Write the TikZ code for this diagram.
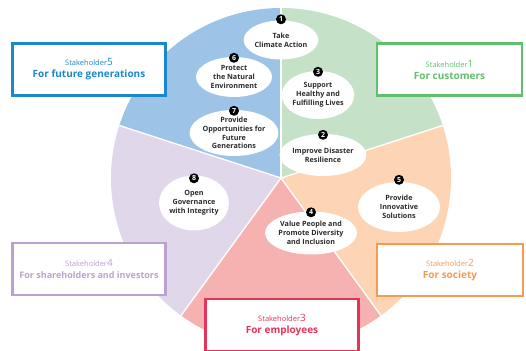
\documentclass[tikz,border=0pt]{standalone}
\usepackage{fontspec}
\setmainfont{Open Sans}
\usetikzlibrary{shapes.geometric}

\definecolor{fillblue}{HTML}{9DC3E6}
\definecolor{fillgreen}{HTML}{C5E2C8}
\definecolor{fillorange}{HTML}{FDD5B4}
\definecolor{fillpink}{HTML}{F6B2B0}
\definecolor{filllav}{HTML}{E1D7EB}
\definecolor{lineblue}{HTML}{1B87CC}
\definecolor{linegreen}{HTML}{62BF6E}
\definecolor{lineorange}{HTML}{F59B50}
\definecolor{linepink}{HTML}{E5335B}
\definecolor{linelav}{HTML}{BBA1D2}
\definecolor{txtgray}{HTML}{2B2B2B}

\tikzset{
  goal/.style={ellipse, fill=white, text=txtgray, align=center, inner sep=0pt,
    font=\fontsize{7.2}{8.8}\selectfont\bfseries},
  num/.style={circle, fill=black, text=white, inner sep=0pt, minimum size=10pt,
    font=\fontsize{7}{7}\selectfont\bfseries},
  sbox/.style={draw=#1, line width=2.6pt, fill=white, text=#1, align=center,
    minimum height=52pt}
}
\newcommand{\shead}[2]{{\fontsize{7.5}{11}\selectfont #1\fontsize{10}{11}\selectfont #2}}
\newcommand{\sfor}[1]{{\fontsize{10}{12}\selectfont\bfseries #1}}

\begin{document}
\begin{tikzpicture}[x=1pt,y=1pt]
    \useasboundingbox (0,0) rectangle (526,350);
    \coordinate (c) at (281,172);

    % pie
    \fill[fillgreen] (c) -- ++(18:170) arc (18:90:170) -- cycle;
    \fill[fillblue] (c) -- ++(90:170) arc (90:162:170) -- cycle;
    \fill[filllav] (c) -- ++(162:170) arc (162:234:170) -- cycle;
    \fill[fillpink] (c) -- ++(234:170) arc (234:306:170) -- cycle;
    \fill[fillorange] (c) -- ++(306:170) arc (306:378:170) -- cycle;
    \foreach \a in {18,90,162,234,306}
        \draw[white, line width=1.3pt] (c) -- ++(\a:170);

    % goals
    \node[goal, minimum width=74pt, minimum height=39pt] (e1) at (281,310) {Take\\Climate Action};
    \node[goal, minimum width=76pt, minimum height=40pt] (e6) at (234,273) {Protect\\the Natural\\Environment};
    \node[goal, minimum width=78pt, minimum height=46pt] (e7) at (234,217) {Provide\\Opportunities for\\Future\\Generations};
    \node[goal, minimum width=66pt, minimum height=48pt] (e3) at (318,255) {Support\\Healthy and\\Fulfilling Lives};
    \node[goal, minimum width=74pt, minimum height=42pt] (e2) at (323,195) {Improve Disaster\\Resilience};
    \node[goal, minimum width=82pt, minimum height=50pt] (e5) at (399,143) {Provide\\Innovative\\Solutions};
    \node[goal, minimum width=76pt, minimum height=43pt] (e4) at (311,117) {Value People and\\Promote Diversity\\and Inclusion};
    \node[goal, minimum width=70pt, minimum height=55pt] (e8) at (194,147) {Open\\Governance\\with Integrity};

    \node[num] (n1) at ([yshift=1pt]e1.north) {1};
    \node[num] (n6) at ([yshift=-1pt]e6.north) {6};
    \node[num] (n7) at ([yshift=-1pt]e7.north) {7};
    \node[num] (n3) at ([yshift=-1pt]e3.north) {3};
    \node[num] (n2) at ([yshift=-1pt]e2.north) {2};
    \node[num] (n5) at ([yshift=2pt]e5.north) {5};
    \node[num] (n4) at ([yshift=-1pt]e4.north) {4};
    \node[num] (n8) at ([yshift=-3pt]e8.north) {8};

    % stakeholders
    \node[sbox=lineblue, minimum width=153pt] (s5) at (89,280.5) {\shead{Stakeholder}{5}\\\sfor{For future generations}};
    \node[sbox=linegreen, minimum width=145pt] (s1) at (449.5,280.5) {\shead{Stakeholder}{1}\\\sfor{For customers}};
    \node[sbox=linelav, minimum width=153pt] (s4) at (89,81) {\shead{Stakeholder}{4}\\{\fontsize{9}{12}\selectfont\bfseries For shareholders and investors}};
    \node[sbox=lineorange, minimum width=146pt] (s2) at (450,80) {\shead{Stakeholder}{2}\\\sfor{For society}};
    \node[sbox=linepink, minimum width=153pt] (s3) at (282,25) {\shead{Stakeholder}{3}\\\sfor{For employees}};
\end{tikzpicture}
\end{document}
